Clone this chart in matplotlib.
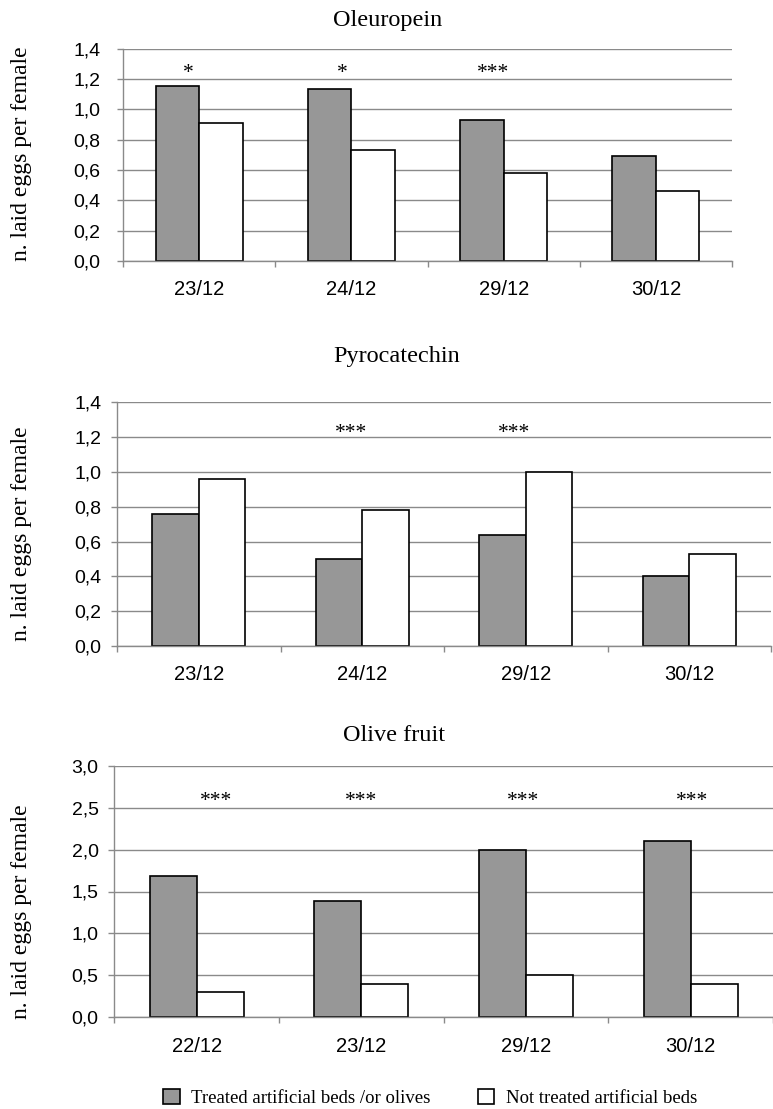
import matplotlib
matplotlib.use("Agg")
import matplotlib.pyplot as plt
from matplotlib.transforms import blended_transform_factory
from matplotlib.ticker import FixedLocator

# ---------------- data ----------------
titles = ["Oleuropein", "Pyrocatechin", "Olive fruit"]

dates1 = ["23/12", "24/12", "29/12", "30/12"]
treated1 = [1.15, 1.13, 0.93, 0.69]
control1 = [0.91, 0.73, 0.58, 0.46]
sig1 = ["*", "*", "***", ""]
yticks1 = [0.0, 0.2, 0.4, 0.6, 0.8, 1.0, 1.2, 1.4]
ylabels1 = ["0,0", "0,2", "0,4", "0,6", "0,8", "1,0", "1,2", "1,4"]

dates2 = ["23/12", "24/12", "29/12", "30/12"]
treated2 = [0.76, 0.50, 0.64, 0.40]
control2 = [0.96, 0.78, 1.00, 0.53]
sig2 = ["", "***", "***", ""]
yticks2 = [0.0, 0.2, 0.4, 0.6, 0.8, 1.0, 1.2, 1.4]
ylabels2 = ["0,0", "0,2", "0,4", "0,6", "0,8", "1,0", "1,2", "1,4"]

dates3 = ["22/12", "23/12", "29/12", "30/12"]
treated3 = [1.69, 1.39, 2.00, 2.10]
control3 = [0.30, 0.40, 0.50, 0.40]
sig3 = ["***", "***", "***", "***"]
yticks3 = [0.0, 0.5, 1.0, 1.5, 2.0, 2.5, 3.0]
ylabels3 = ["0,0", "0,5", "1,0", "1,5", "2,0", "2,5", "3,0"]

legend_labels = ["Treated artificial beds /or olives", "Not treated artificial beds"]
ylabel_text = "n. laid eggs per female"

# ---------------- layout / style ----------------
W, H = 773, 1109
SERIF = ["Liberation Serif", "DejaVu Serif"]
SANS = ["Liberation Sans", "DejaVu Sans"]
GRID = "#8a8a8a"
BAR_GRAY = "#979797"

fig = plt.figure(figsize=(W / 100, H / 100), dpi=100)

def rect(l, r, t, b):
    return [l / W, 1 - b / H, (r - l) / W, (b - t) / H]

panels = [
    dict(rect=rect(123, 732, 48.5, 261), dates=dates1, t=treated1, c=control1, sig=sig1,
         yt=yticks1, yl=ylabels1, ymax=1.4, star_y=0.862, star_dx=[-0.07, -0.06, -0.07, 0],
         title_xy=(388, 26), ylab_y=154, ypad=12),
    dict(rect=rect(117, 771, 402.3, 646), dates=dates2, t=treated2, c=control2, sig=sig2,
         yt=yticks2, yl=ylabels2, ymax=1.4, star_y=0.855, star_dx=[0, -0.07, -0.07, 0],
         title_xy=(397, 361.7), ylab_y=534, ypad=7),
    dict(rect=rect(114.3, 773, 765.7, 1017.3), dates=dates3, t=treated3, c=control3, sig=sig3,
         yt=yticks3, yl=ylabels3, ymax=3.0, star_y=0.84, star_dx=[0.12, 0.0, -0.02, 0.01],
         title_xy=(394, 740.7), ylab_y=912, ypad=7),
]

bw = 0.285
handles = None
for i, p in enumerate(panels):
    ax = fig.add_axes(p["rect"])
    x = list(range(len(p["dates"])))
    b1 = ax.bar([xi - bw / 2 for xi in x], p["t"], width=bw, color=BAR_GRAY,
                edgecolor="black", linewidth=1.2, zorder=3)
    b2 = ax.bar([xi + bw / 2 for xi in x], p["c"], width=bw, color="white",
                edgecolor="black", linewidth=1.2, zorder=3)
    handles = (b1, b2)
    ax.set_xlim(-0.5, len(x) - 0.5)
    ax.set_ylim(0, p["ymax"])
    ax.set_yticks(p["yt"])
    ax.set_yticklabels(p["yl"], fontfamily=SANS, fontsize=14)
    ax.set_xticks(x)
    ax.set_xticklabels(p["dates"], fontfamily=SANS, fontsize=14.5)
    ax.xaxis.set_minor_locator(FixedLocator([xi - 0.5 for xi in range(len(x) + 1)]))
    ax.tick_params(axis="x", which="major", length=0, pad=14)
    ax.tick_params(axis="x", which="minor", length=4.3, width=1, color=GRID, direction="out")
    ax.tick_params(axis="y", length=4.3, width=1, color=GRID, pad=p["ypad"])
    ax.grid(axis="y", color=GRID, linewidth=1.0, zorder=0)
    ax.set_axisbelow(True)
    for s in ["top", "right"]:
        ax.spines[s].set_visible(False)
    for s in ["left", "bottom"]:
        ax.spines[s].set_color(GRID)
        ax.spines[s].set_linewidth(1.0)
    ax.spines["bottom"].set_zorder(4)

    trans = blended_transform_factory(ax.transData, ax.transAxes)
    for xi, s, dx in zip(x, p["sig"], p["star_dx"]):
        if s:
            ax.text(xi + dx, p["star_y"], s, transform=trans, ha="center", va="baseline",
                    fontfamily=SERIF, fontsize=15.5)

    tx, ty = p["title_xy"]
    fig.text(tx / W, 1 - ty / H, titles[i], ha="center", va="baseline",
             fontfamily=SERIF, fontsize=17.5)
    fig.text(22 / W, 1 - p["ylab_y"] / H, ylabel_text, rotation=90, ha="center",
             va="center", fontfamily=SERIF, fontsize=17)

fig.legend(handles, legend_labels, ncol=2, loc="center",
           bbox_to_anchor=(430 / W, 1 - 1098 / H), frameon=False,
           prop={"family": SERIF, "size": 13.5}, handlelength=0.9, handleheight=0.9,
           handletextpad=0.6, columnspacing=2.5)

fig.savefig("out.png", dpi=100)
